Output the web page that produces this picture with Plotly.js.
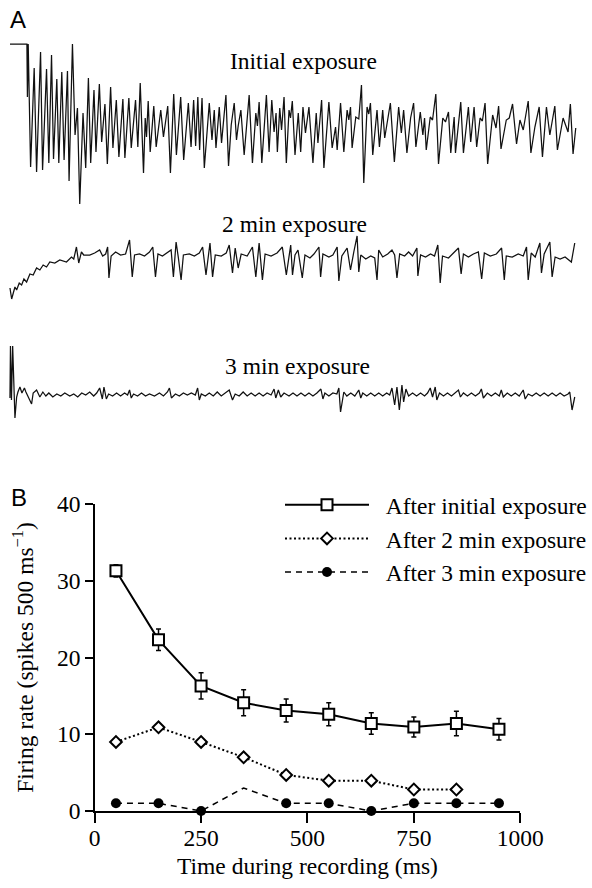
<!DOCTYPE html>
<html><head><meta charset="utf-8">
<script src="https://cdn.plot.ly/plotly-3.0.1.min.js"></script>
<style>html,body{margin:0;padding:0;background:#fff;} #chart{width:592px;height:888px;}</style>
</head><body><div id="chart"></div>
<script>
// ---------- Panel B data ----------
const binTimes = [50,150,250,350,450,550,650,750,850,950];
const rateInitial = [31.3,22.3,16.3,14.1,13.1,12.6,11.4,10.95,11.4,10.65];
const rateInitialErr = [0.8,1.4,1.7,1.7,1.5,1.5,1.4,1.3,1.6,1.4];
const binTimes2min = [50,150,250,350,450,550,650,750,850];
const rate2min = [9.0,10.9,9.0,7.0,4.7,3.95,3.95,2.8,2.8];
const rate3min = [1,1,0,3,1,1,0,1,1,1];
const rate3minMarkerShown = [true,true,true,false,true,true,true,true,true,true];
const seriesNames = ['After initial exposure','After 2 min exposure','After 3 min exposure'];
const xTicks = [0,250,500,750,1000];
const yTicks = [0,10,20,30,40];
const traceLabels = ['Initial exposure','2 min exposure','3 min exposure'];

// ---------- Panel A recordings: time (ms), potential (arbitrary units) ----------
const initT = [0,34,35,36.6,41.4,48.6,53.4,61.4,65.4,73.4,78,83.4,87.4,94,98,104,108.6,115.4,118.6,125.4,130.6,135.4,140,146.6,152,157.4,162,168.6,172.6,179.4,184,190.6,195.4,202,206.6,213.4,218.6,226.6,230.6,238.6,243.4,247,252,256.6,261.4,268,271.4,274,277.4,281.4,288.6,293.4,298,302.6,308,316.6,322,328.6,334,342.6,348.6,358,363.4,368.6,372.6,377,380.6,385.4,390,400,405.4,410,413.4,420,424.6,433.4,438.6,444,450,454.6,458,463.4,470,480,486.6,493.4,496.6,500,505.4,514.6,520,525.4,530,534,536.6,541.4,545,550,554.6,560,563,566.6,572,578.6,583.4,588,593,600,608,614.6,618,625.4,630,640,646.6,653.4,656.6,663.4,670,676.6,680,683.4,686.6,694,700,705.4,710,716.6,720,723.4,728,736.6,741.4,748,752,756,763.4,771.4,780,785.4,790,796.6,804,810,814.6,823.4,828.6,832,835.4,843.4,848,854.6,860,868.6,874,880,884.6,891.4,894,904.6,910,920,924.6,931.4,936.6,943.4,948,953.4,958.6,968.6,975.4,980.6,985.4,996,1002,1008.6,1016.6,1023.4,1030,1040,1045.4,1053.4,1062,1068.6,1076.6,1083.4,1093.4,1098.6,1110,1120,1124.6,1130,1135.4];
const initV = [86,86,33,86,-37,62,-42,78,-40,61,-33,75,-29,51,-33,58,-30,59,-51,86,-5,22,-74,17,-38,52,-33,40,-22,46,-12,26,-34,43,-18,30,-27,31,-28,32,-18,2,30,-17,47,-43,12,-7,29,-22,24,-17,5,20,-7,24,-43,36,-25,33,-30,27,-17,30,-16,33,-20,32,-38,27,-10,20,-18,23,-13,35,-36,5,27,-10,4,20,-25,35,-33,17,4,28,-33,35,-22,30,-2,17,-22,22,0,33,-33,20,12,29,-25,17,-22,23,-3,23,-33,17,-13,30,-38,28,-18,3,-20,27,-22,20,10,23,-18,13,11,45,-53,23,16,27,-25,20,-17,20,-8,5,27,-32,23,-3,20,-23,12,27,-17,18,-5,12,-20,13,10,36,-34,12,8,18,-23,13,-23,28,-23,23,-12,23,-17,12,9,27,-34,15,2,24,-19,10,12,26,-14,10,0,29,-23,3,23,-27,23,-5,24,-20,12,-2,26,-24,2];

const twoMinT = [0,3.4,10,13.4,18.6,23.4,28,33.4,40,46.6,53.4,60,66.6,73.4,80,90,100,113.4,123.4,128,133.4,138,143.4,148,160,170,180,186,192,196,198.6,203,212,222,232,240,245.4,250,260,270,280,286.6,292,297,306,316,323.4,328,333.4,338,343.4,348,360,370,380,386.6,393.4,401.4,406.6,412,424,434,440,446.6,452,458,464,476,486.6,493.4,500,506.6,512,524,536,546.6,554.6,563.4,567,572,578,586.6,592,602,610,620,623.4,628,640,648,656.6,660,666,676.6,683.4,690,696.6,700,704,714,724,732,736.6,740,748,758,766.6,772,776.6,782,792,800,808,816.6,818.6,824,834,844,852,858.6,863.4,868,880,890,900,905.4,910,920,930,940,946.6,952,964,976,986.6,992,996,1008,1020,1030,1036.6,1040,1046,1054,1063.4,1066.6,1072,1083.4,1088,1094,1104,1114,1122,1126.6,1133.4];
const twoMinV = [-30,-41,-29,-32,-25,-27,-21,-24,-16,-17,-10,-12,-7,-9,-4,-5,-2,-4,1,-1,11,-5,6,3,3,5,8,2,4,11,-20,2,6,3,4,18,-19,3,4,2,6,11,-19,4,2,5,8,-19,16,0,-22,3,4,2,5,11,-17,15,-19,3,2,5,13,-15,10,-10,4,2,11,-19,15,-22,4,2,5,11,-17,13,-17,3,8,-20,3,0,4,11,-19,4,1,3,11,-23,2,10,-12,6,22,-14,3,-1,2,0,-22,8,1,4,8,3,-20,4,2,6,2,10,-18,3,1,4,2,13,-25,2,0,5,10,-16,4,1,4,6,-21,5,2,4,10,-22,2,1,4,2,11,-22,5,1,15,-15,4,16,-19,1,-1,1,-2,-4,15];

const threeMinT = [0,1,3,5.4,10,13.4,16,20,24,29,32,36.6,43.4,46.6,53.4,60,66,72,78,86,94,102,110,120,128,136,144,152,160,168,174,180,185.4,188.6,193.4,198,206,214,222,230,236,240,243.4,248,256,264,272,280,290,300,308,316,320,324,332,340,348,356,364,372,376.6,380,384,392,400,408,416,424,432,440,446.6,452,460,468,476,484,492,500,508,516,524,530,533.4,538.6,543.4,550,560,568,576,584,592,600,608,616,624,628,632,640,648,656,660,663.4,670,676,684,692,700,704,708,716,724,732,740,748,756,762,766.6,772,776.6,781.4,786.6,790,794.6,800,808,816,824,832,838,843.4,848,853.4,856.6,862,870,878,886,894,900,904,910,918,926,934,942,946,950,958,966,974,982,986,990,998,1006,1014,1022,1030,1034,1040,1048,1056,1064,1072,1080,1088,1096,1104,1112,1120,1123.4,1128,1133.4];
const threeMinV = [-5,47,-7,47,-25,-4,1,6,0,5,1,-4,-11,0,3,-4,1,-3,0,-4,-1,-3,0,-3,-1,-4,0,-2,1,-3,0,5,-6,6,-6,-1,-3,0,-3,0,-2,3,-5,-1,-3,0,-3,-1,-3,0,-3,1,5,-5,-1,-3,0,-2,0,-2,5,-7,-1,-3,0,-3,1,-3,0,3,-7,-1,-3,1,-3,0,-3,0,-3,0,-2,4,-5,3,-4,0,-3,0,-3,0,-3,0,-3,0,4,-6,0,-3,0,-1,5,-19,1,-3,0,-3,3,-5,0,-3,0,-3,0,-3,0,-2,5,-12,6,-17,8,-9,4,-3,0,-3,0,-3,0,5,-4,6,-7,0,-3,0,-3,0,3,-4,0,-3,0,-3,0,4,-5,0,-3,0,-3,3,-4,0,-3,0,-3,3,-6,-1,-3,0,-3,0,-3,0,-3,0,-3,-1,1,-17,-4];

const SERIF = 'Liberation Serif, Tinos, serif';
const SANS = 'Liberation Sans';
const FS = 23.5;

const recLine = {color:'#111', width:1.25};
const traces = [
  {x:initT, y:initV, xaxis:'x2', yaxis:'y2', mode:'lines', line:recLine, showlegend:false},
  {x:twoMinT, y:twoMinV, xaxis:'x2', yaxis:'y3', mode:'lines', line:recLine, showlegend:false},
  {x:threeMinT, y:threeMinV, xaxis:'x2', yaxis:'y4', mode:'lines', line:recLine, showlegend:false},
  {x:binTimes, y:rateInitial, name:'\u00a0\u00a0'+seriesNames[0], mode:'lines+markers',
   line:{color:'#000', width:2}, cliponaxis:false,
   marker:{symbol:'square', size:11, color:'#fff', line:{color:'#000', width:2}},
   error_y:{type:'data', array:rateInitialErr, visible:true, color:'#000', thickness:1.5, width:2.5}},
  {x:binTimes2min, y:rate2min, name:'\u00a0\u00a0'+seriesNames[1], mode:'lines+markers',
   line:{color:'#000', width:2, dash:'2px,2.5px'}, cliponaxis:false,
   marker:{symbol:'diamond', size:9, color:'#fff', line:{color:'#000', width:2}}},
  {x:binTimes, y:rate3min, name:'\u00a0\u00a0'+seriesNames[2], mode:'lines+markers',
   line:{color:'#000', width:1.5, dash:'6px,5px'}, cliponaxis:false,
   marker:{symbol:'circle', size:10, color:rate3minMarkerShown.map(s => s ? '#000' : 'rgba(0,0,0,0)')}}
];

const hidden = {visible:false, showgrid:false, zeroline:false, fixedrange:true};
function label(text, px, py, family, size) {
  return {text:text, x:px/592, y:(888-py)/888, xref:'paper', yref:'paper', xanchor:'center', yanchor:'middle',
          showarrow:false, font:{family:family, size:size, color:'#000'}};
}
const layout = {
  width:592, height:888,
  margin:{l:0, r:0, t:0, b:0},
  paper_bgcolor:'#fff', plot_bgcolor:'rgba(0,0,0,0)',
  showlegend:true,
  font:{family:SERIF, size:FS, color:'#000'},
  legend:{x:0.4747, y:0.456, xanchor:'left', yanchor:'top', itemwidth:84,
          font:{family:SERIF, size:FS, color:'#000'}, bgcolor:'rgba(0,0,0,0)', traceorder:'normal'},
  xaxis:{domain:[95/592, 522/592], range:[0,1000], tickvals:xTicks, showline:true, linecolor:'#000', linewidth:1.5,
         ticks:'outside', ticklen:10, tickwidth:2, tickcolor:'#000', showgrid:false, zeroline:false,
         ticklabelstandoff:-5,
         tickfont:{family:SERIF, size:FS}, anchor:'y',
         title:{text:'Time during recording (ms)', font:{family:SERIF, size:FS}, standoff:8}},
  yaxis:{domain:[77/888, 384/888], range:[0,40], tickvals:yTicks, showline:true, linecolor:'#000', linewidth:1.5,
         ticks:'outside', ticklen:8, tickwidth:2, tickcolor:'#000', showgrid:false, zeroline:false,
         tickfont:{family:SERIF, size:FS}, anchor:'x',
         title:{text:'Firing rate (spikes 500 ms<sup>\u22121</sup>)', font:{family:SERIF, size:FS}, standoff:17}},
  xaxis2:Object.assign({domain:[0,1], range:[-20,1164], anchor:'y2'}, hidden),
  yaxis2:Object.assign({domain:[668/888, 858/888], range:[-90,100], anchor:'x2'}, hidden),
  yaxis3:Object.assign({domain:[578/888, 663/888], range:[-52,33], anchor:'x2'}, hidden),
  yaxis4:Object.assign({domain:[463/888, 548/888], range:[-32,53], anchor:'x2'}, hidden),
  annotations:[
    label('A', 18, 20, SANS, 24),
    label('B', 19, 497, SANS, 24),
    label(traceLabels[0], 305, 61, SERIF, FS),
    label(traceLabels[1], 295, 224, SERIF, FS),
    label(traceLabels[2], 299, 366, SERIF, FS)
  ]
};
Plotly.newPlot('chart', traces, layout, {staticPlot:true, displayModeBar:false});
</script></body></html>
